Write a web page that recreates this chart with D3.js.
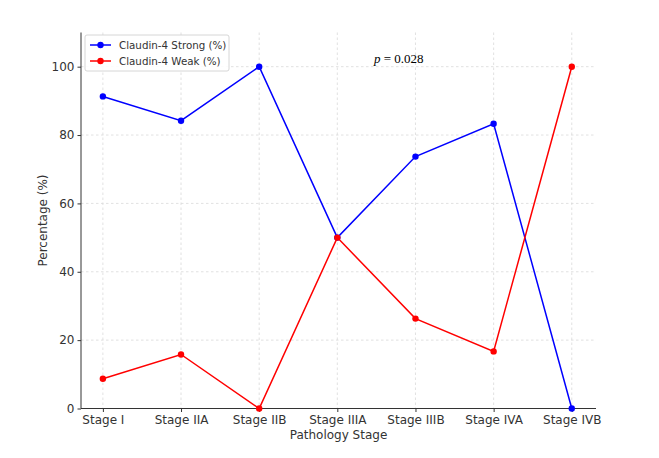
<!DOCTYPE html>
<html><head><meta charset="utf-8">
<script src="https://cdn.jsdelivr.net/npm/d3@7"></script>
<style>body{margin:0;background:#fff}</style>
</head><body>
<svg id="c" width="659" height="458"></svg>
<script>
const categories = ["Stage I","Stage IIA","Stage IIB","Stage IIIA","Stage IIIB","Stage IVA","Stage IVB"];
const strongValues = [91.3, 84.2, 100, 50, 73.7, 83.3, 0];
const weakValues = [8.7, 15.8, 0, 50, 26.3, 16.7, 100];
const yTicks = [0, 20, 40, 60, 80, 100];
const seriesNames = ["Claudin-4 Strong (%)", "Claudin-4 Weak (%)"];
const seriesColors = ["#0000ff", "#ff0000"];

const svg = d3.select("#c");
const L = 81, R = 596, T = 32.5, B = 408.5;
const x = d3.scaleLinear().domain([-0.28, 6.31]).range([L, R]);
const y = d3.scaleLinear().domain([0, 110]).range([B, T]);
const font = "DejaVu Sans, sans-serif";

// grid
const g = svg.append("g");
g.selectAll(".gx").data(categories).enter().append("line")
  .attr("x1", (d,i)=>x(i)).attr("x2",(d,i)=>x(i)).attr("y1",T).attr("y2",B)
  .attr("stroke","#d9d9d9").attr("stroke-width",0.8).attr("stroke-dasharray","2.5,2.5");
g.selectAll(".gy").data(yTicks).enter().append("line")
  .attr("x1", L).attr("x2", R).attr("y1", d=>y(d)).attr("y2", d=>y(d))
  .attr("stroke","#d9d9d9").attr("stroke-width",0.8).attr("stroke-dasharray","2.5,2.5");

// axes
const xAxis = d3.axisBottom(x).tickValues(d3.range(categories.length)).tickFormat(i=>categories[i]).tickSize(3.5).tickPadding(3);
const yAxis = d3.axisLeft(y).tickValues(yTicks).tickSize(3.5).tickPadding(3);
const ax = svg.append("g").attr("transform",`translate(0,${B})`).call(xAxis);
const ay = svg.append("g").attr("transform",`translate(${L},0)`).call(yAxis);
ax.select(".domain").attr("d",`M${L},0H${R}`);
ay.select(".domain").attr("d",`M0,${T}V${B}`);
[ax, ay].forEach(a=>{
  a.select(".domain").attr("stroke","#333").attr("stroke-width",1);
  a.selectAll(".tick line").attr("stroke","#333");
  a.selectAll(".tick text").attr("fill","#333").style("font-family",font).style("font-size","12px");
});

// series
const allSeries = [strongValues, weakValues];
allSeries.forEach((vals, si)=>{
  const line = d3.line().x((d,i)=>x(i)).y(d=>y(d));
  svg.append("path").datum(vals).attr("d",line).attr("fill","none")
    .attr("stroke",seriesColors[si]).attr("stroke-width",1.5);
  svg.selectAll(".pt"+si).data(vals).enter().append("circle")
    .attr("cx",(d,i)=>x(i)).attr("cy",d=>y(d)).attr("r",3.2).attr("fill",seriesColors[si]);
});

// axis labels
svg.append("text").attr("x",(L+R)/2).attr("y",439).attr("text-anchor","middle")
  .style("font-family",font).style("font-size","12px").attr("fill","#333").text("Pathology Stage");
svg.append("text").attr("transform",`translate(47,${(T+B)/2}) rotate(-90)`).attr("text-anchor","middle")
  .style("font-family",font).style("font-size","12px").attr("fill","#333").text("Percentage (%)");

// legend
const lg = svg.append("g");
lg.append("rect").attr("x",85).attr("y",35).attr("width",144).attr("height",36).attr("rx",2)
  .attr("fill","#fff").attr("fill-opacity",0.85).attr("stroke","#ccc").attr("stroke-width",0.8);
seriesNames.forEach((n,i)=>{
  const yy = 45 + i*16;
  lg.append("line").attr("x1",90).attr("x2",111).attr("y1",yy).attr("y2",yy).attr("stroke",seriesColors[i]).attr("stroke-width",1.5);
  lg.append("circle").attr("cx",100.5).attr("cy",yy).attr("r",3.2).attr("fill",seriesColors[i]);
  lg.append("text").attr("x",119).attr("y",yy+3.8).style("font-family",font).style("font-size","10.3px").attr("fill","#333").text(n);
});

// p-value
const pt = svg.append("text").attr("x",374).attr("y",63).style("font-family","Liberation Serif, Times New Roman, serif").style("font-size","13px").attr("fill","#000");
pt.append("tspan").style("font-style","italic").text("p");
pt.append("tspan").text(" = 0.028");
</script>
</body></html>
